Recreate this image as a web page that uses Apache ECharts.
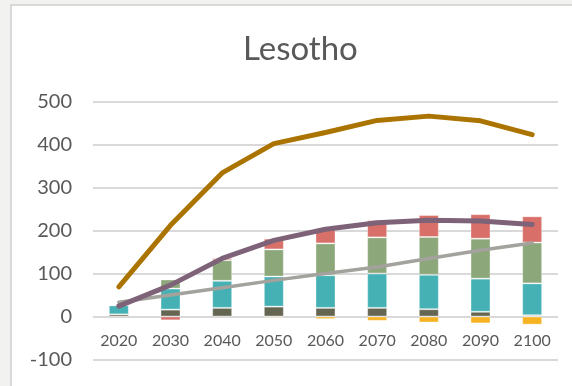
<!DOCTYPE html>
<html>
<head>
<meta charset="utf-8">
<script src="https://cdn.jsdelivr.net/npm/echarts@6/dist/echarts.min.js"></script>
<style>
  html, body { margin: 0; padding: 0; width: 572px; height: 386px; background: #f2f2f0; overflow: hidden; }
  #panel { position: absolute; left: 10px; top: 4px; right: 0; bottom: 0; background: #ffffff;
           border-left: 2px solid #d9d9d9; border-top: 2px solid #d9d9d9; }
  #chart { position: absolute; left: 0; top: 0; width: 572px; height: 386px; }
</style>
</head>
<body>
<div id="panel"></div>
<div id="chart"></div>
<script>
// Categories (years) and the stacked components, bottom to top
const years = ['2020', '2030', '2040', '2050', '2060', '2070', '2080', '2090', '2100'];
const olive = [5, 16, 20, 23, 20, 20, 17, 11, 3];
const teal = [21, 49, 63, 70, 76, 80, 80, 77, 74];
const green = [0, 21, 48, 63, 74, 84, 88, 93, 95];
const red = [0, -9, 5, 25, 35, 40, 51, 57, 61];
const yellow = [0, 0, 0, -3, -6, -10, -14, -16, -19];

// Overlaid lines
const goldLine = [69, 212, 334, 402, 428, 456, 466, 455, 423];
const purpleLine = [24, 73, 135, 177, 203, 218, 224, 222, 214];
const greyLine = [33, 50, 67, 84, 100, 115, 135, 154, 171];

const yTicks = { min: -100, max: 500, step: 100 };

const txt = '#595959';
const fontFam = 'Lato, "Open Sans", sans-serif';

function barSeries(name, data, color) {
  return {
    name: name, type: 'bar', stack: 'total', data: data, barWidth: 20,
    itemStyle: { color: color, borderColor: 'rgba(255,255,255,0.35)', borderWidth: 1 },
    emphasis: { disabled: true }, z: 2
  };
}
function lineSeries(name, data, color, width, z) {
  return {
    name: name, type: 'line', data: data, symbol: 'none', smooth: false,
    lineStyle: { color: color, width: width, cap: 'round', join: 'round' },
    itemStyle: { color: color }, z: z, emphasis: { disabled: true }
  };
}

const chart = echarts.init(document.getElementById('chart'), null, { renderer: 'canvas' });
chart.setOption({
  animation: false,
  backgroundColor: 'transparent',
  title: {
    text: 'Lesotho', left: 238, top: 28,
    textStyle: { color: txt, fontFamily: fontFam, fontSize: 33, fontWeight: 'normal' }
  },
  grid: { left: 93, right: 14, top: 101.5, bottom: 26.5, containLabel: false },
  xAxis: {
    type: 'category', data: years,
    // category labels sit just under the zero line
    offset: -43,
    axisLine: { show: false },
    axisTick: { show: false },
    axisLabel: { color: txt, fontFamily: fontFam, fontSize: 16, margin: 16 }
  },
  yAxis: {
    type: 'value', min: yTicks.min, max: yTicks.max, interval: yTicks.step,
    axisLine: { show: false }, axisTick: { show: false },
    axisLabel: { color: txt, fontFamily: fontFam, fontSize: 20, margin: 21 },
    splitLine: { lineStyle: { color: '#d9d9d9', width: 2 } }
  },
  series: [
    barSeries('olive', olive, '#656652'),
    barSeries('teal', teal, '#46b1b4'),
    barSeries('green', green, '#8ca87b'),
    barSeries('red', red, '#d86f69'),
    barSeries('yellow', yellow, '#f5b324'),
    lineSeries('grey', greyLine, '#a3a29c', 3.5, 4),
    lineSeries('purple', purpleLine, '#7e6278', 5, 5),
    lineSeries('gold', goldLine, '#ab7400', 5, 6)
  ]
});
</script>
</body>
</html>
